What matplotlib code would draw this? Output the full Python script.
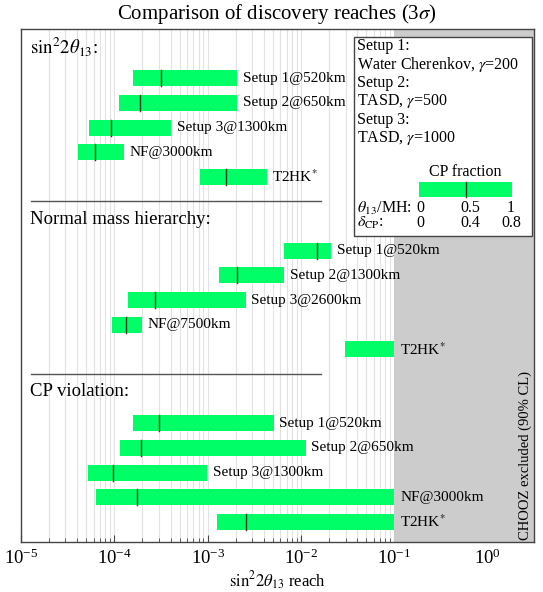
import numpy as np
import matplotlib
matplotlib.use("Agg")
import matplotlib.pyplot as plt
from matplotlib.patches import Rectangle
from matplotlib.lines import Line2D
from matplotlib.ticker import LogLocator, NullFormatter

plt.rcParams['font.family'] = ['Liberation Serif', 'DejaVu Serif']
plt.rcParams['mathtext.fontset'] = 'stix'

# sin^2 2theta13 discovery reach (lower edge, upper edge, median of CP fraction)
theta_labels = ['Setup 1@520km', 'Setup 2@650km', 'Setup 3@1300km', 'NF@3000km', 'T2HK$^{*}$']
theta_lo = [1.58e-4, 1.12e-4, 5.4e-5, 4.1e-5, 8.3e-4]
theta_hi = [2.06e-3, 2.06e-3, 4.05e-4, 1.27e-4, 4.3e-3]
theta_mid = [3.16e-4, 1.88e-4, 9.2e-5, 6.2e-5, 1.57e-3]

# normal mass hierarchy
mh_labels = ['Setup 1@520km', 'Setup 2@1300km', 'Setup 3@2600km', 'NF@7500km', 'T2HK$^{*}$']
mh_lo = [6.6e-3, 1.31e-3, 1.40e-4, 9.4e-5, 2.92e-2]
mh_hi = [2.09e-2, 6.6e-3, 2.56e-3, 1.98e-4, 0.1]
mh_mid = [1.48e-2, 2.07e-3, 2.72e-4, 1.34e-4, np.nan]

# CP violation
cp_labels = ['Setup 1@520km', 'Setup 2@650km', 'Setup 3@1300km', 'NF@3000km', 'T2HK$^{*}$']
cp_lo = [1.60e-4, 1.16e-4, 5.2e-5, 6.4e-5, 1.26e-3]
cp_hi = [5.1e-3, 1.12e-2, 9.9e-4, 0.1, 0.1]
cp_mid = [2.98e-4, 1.95e-4, 9.6e-5, 1.76e-4, 2.55e-3]

section_titles = [r'$\mathrm{sin}^2 2\theta_{13}$:', 'Normal mass hierarchy:', 'CP violation:']
chooz_limit = 0.1
x_range = (1e-5, 3.08)

GREEN = '#00ff66'
W, H = 543, 592


def px(x, y):
    # figure pixel -> figure fraction
    return x / W, 1 - y / H


fig = plt.figure(figsize=(W / 100, H / 100), dpi=100)
ax = fig.add_axes([20.9 / W, 1 - 542 / H, 512.6 / W, 513 / H])
ax.set_xscale('log')
ax.set_xlim(*x_range)
ax.set_ylim(18.82, -2.0)

ax.xaxis.set_major_locator(LogLocator(base=10, numticks=20))
ax.xaxis.set_minor_locator(LogLocator(base=10, subs=np.arange(2, 10), numticks=100))
ax.xaxis.set_minor_formatter(NullFormatter())
ax.grid(True, which='both', axis='x', color='#e2e2e2', lw=0.8)
ax.set_axisbelow(True)
ax.set_yticks([])
ax.tick_params(axis='x', which='both', direction='in', top=False, color='#444444',
               labelsize=13.5, pad=5)
ax.tick_params(axis='x', which='major', length=5)
ax.tick_params(axis='x', which='minor', length=3)
for sp in ax.spines.values():
    sp.set_color('#444444')
    sp.set_linewidth(1.0)

# CHOOZ excluded region
ax.axvspan(chooz_limit, x_range[1], color='#cccccc', lw=0, zorder=1)
ax.text(0.983, 0.168, 'CHOOZ excluded (90% CL)', transform=ax.transAxes, rotation=90,
        ha='center', va='center', fontsize=10.5, zorder=4)

sections = [
    (theta_labels, theta_lo, theta_hi, theta_mid),
    (mh_labels, mh_lo, mh_hi, mh_mid),
    (cp_labels, cp_lo, cp_hi, cp_mid),
]
pitch = 7
bar_h = 0.65
for k, (labels, lo, hi, mid) in enumerate(sections):
    lo, hi, mid = np.array(lo), np.array(hi), np.array(mid)
    rows = k * pitch + np.arange(len(labels))
    ax.barh(rows, hi - lo, left=lo, height=bar_h, color=GREEN, lw=0, zorder=2)
    for r, m in zip(rows, mid):
        if np.isfinite(m):
            ax.plot([m, m], [r - bar_h / 2, r + bar_h / 2], color='#143c1e', lw=1, zorder=3)
    for r, h, lab in zip(rows, hi, labels):
        ax.annotate(lab, (h, r), xytext=(4, 0), textcoords='offset points',
                    va='center', ha='left', fontsize=11, zorder=4)
    ax.text(0.018, k * pitch - 1.27, section_titles[k], transform=ax.get_yaxis_transform(),
            ha='left', va='center', fontsize=13.5)
    if k > 0:
        ax.plot([0.019, 0.586], [k * pitch - 2, k * pitch - 2], color='#555555', lw=1,
                transform=ax.get_yaxis_transform(), zorder=3)

ax.set_xlabel(r'$\mathrm{sin}^2 2\theta_{13}$ reach', fontsize=12, labelpad=1)
fig.text(*px(277, 14), r'Comparison of discovery reaches (3$\sigma$)', ha='center', va='center',
         fontsize=15)

# legend box
x0, y0 = px(354, 236)
x1, y1 = px(532, 37)
fig.patches.append(Rectangle((x0, y0), x1 - x0, y1 - y0, transform=fig.transFigure,
                             facecolor='white', edgecolor='#444444', lw=1, zorder=5))
legend_lines = ['Setup 1:', r'Water Cherenkov, $\gamma$=200', 'Setup 2:', r'TASD, $\gamma$=500',
                'Setup 3:', r'TASD, $\gamma$=1000']
for i, line in enumerate(legend_lines):
    fig.text(*px(357, 46 + 18.4 * i), line, ha='left', va='center', fontsize=11.5, zorder=6)
fig.text(*px(465, 172), 'CP fraction', ha='center', va='center', fontsize=11.5, zorder=6)
bx0, by0 = px(419, 197)
bx1, by1 = px(512, 182)
fig.patches.append(Rectangle((bx0, by0), bx1 - bx0, by1 - by0, transform=fig.transFigure,
                             facecolor=GREEN, lw=0, zorder=6))
fig.lines.append(Line2D([(bx0 + bx1) / 2] * 2, [by0, by1], transform=fig.transFigure,
                        color='#143c1e', lw=1, zorder=7))
fig.text(*px(357, 208), r'$\theta_{13}$/MH:', ha='left', va='center', fontsize=11.5, zorder=6)
fig.text(*px(357, 223), r'$\delta_{\rm CP}$:', ha='left', va='center', fontsize=11.5, zorder=6)
for xx, t1, t2 in zip([420, 470, 511], ['0', '0.5', '1'], ['0', '0.4', '0.8']):
    fig.text(*px(xx, 208), t1, ha='center', va='center', fontsize=11.5, zorder=6)
    fig.text(*px(xx, 223), t2, ha='center', va='center', fontsize=11.5, zorder=6)

fig.savefig('out.png', dpi=100)
